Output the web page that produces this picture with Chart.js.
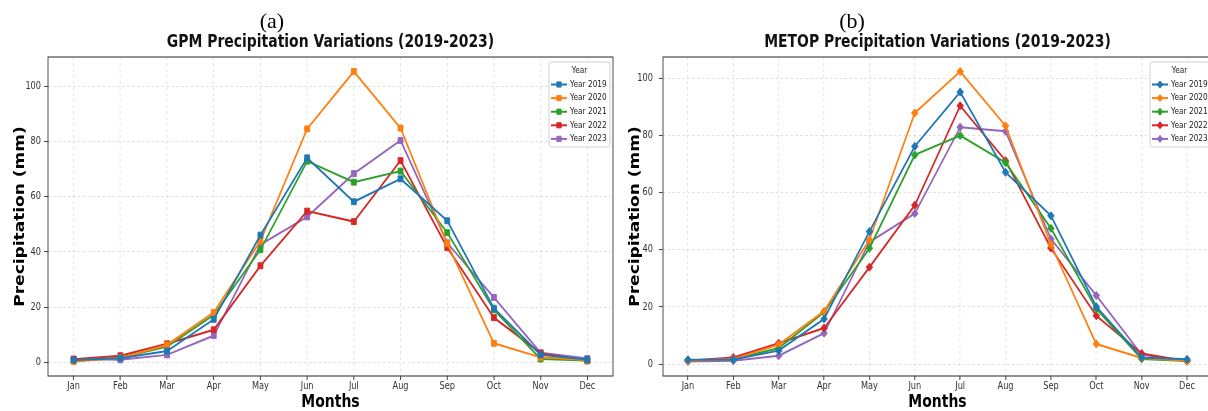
<!DOCTYPE html>
<html><head><meta charset="utf-8">
<script src="https://cdn.jsdelivr.net/npm/chart.js@4/dist/chart.umd.min.js"></script>
<style>
html,body{margin:0;padding:0;background:#fff;}
body{width:1208px;height:411px;position:relative;overflow:hidden;}
.wrap{position:absolute;top:0;height:411px;overflow:hidden;}
.wrap canvas{display:block;}
.lbl{position:absolute;top:10px;width:60px;text-align:center;font-family:"Liberation Serif","DejaVu Serif",serif;font-size:22px;line-height:22px;color:#000;}
</style></head><body>
<div class="wrap" style="left:0;width:630px;"><canvas id="ca"></canvas></div>
<div class="wrap" style="left:620px;width:588px;"><canvas id="cb"></canvas></div>
<div class="lbl" style="left:242px;">(a)</div>
<div class="lbl" style="left:822px;">(b)</div>
<script>
const SX = 0.82; // horizontal compression of the reference picture

const months = ['Jan','Feb','Mar','Apr','May','Jun','Jul','Aug','Sep','Oct','Nov','Dec'];
const years = ['Year 2019','Year 2020','Year 2021','Year 2022','Year 2023'];
const colors = ['#1f77b4','#ff7f0e','#2ca02c','#d62728','#9467bd'];
const yTicks = [0,20,40,60,80,100];

// GPM (mm)
const gpm2019 = [0.8,1.5,4.1,15.6,46.1,74.1,58.2,66.5,51.3,19.6,2.7,1.0];
const gpm2020 = [0.3,1.6,6.3,18.1,44.0,84.6,105.4,84.9,43.0,6.9,1.8,0.8];
const gpm2021 = [0.6,1.7,5.7,17.2,40.8,72.9,65.3,69.3,47.0,19.0,1.2,0.7];
const gpm2022 = [1.1,2.4,6.7,11.8,35.0,54.8,51.0,73.1,41.6,16.2,3.3,0.5];
const gpm2023 = [1.2,0.9,2.7,9.7,42.7,52.7,68.4,80.4,43.3,23.5,3.5,1.4];

// METOP (mm)
const metop2019 = [1.5,1.6,4.7,15.8,46.4,76.2,95.2,67.1,51.9,20.1,2.3,1.7];
const metop2020 = [1.2,1.8,6.8,18.5,43.5,87.9,102.4,83.4,41.8,7.0,2.1,1.2];
const metop2021 = [1.3,1.6,5.6,18.1,40.5,73.2,80.0,70.5,47.5,19.3,1.8,1.1];
const metop2022 = [1.2,2.3,7.3,12.6,33.9,55.6,90.4,71.2,40.6,16.9,3.7,1.0];
const metop2023 = [0.9,1.2,2.9,10.8,42.7,52.7,82.9,81.5,43.8,24.0,3.3,1.1];

const FONT = '"DejaVu Sans", Verdana, sans-serif';

function drawLegend(chart, L) {
  const ctx = chart.ctx;
  const bx = L.x1 / SX, bw = (L.x2 - L.x1) / SX, by = L.y1, bh = L.y2 - L.y1;
  ctx.save();
  ctx.beginPath();
  if (ctx.roundRect) ctx.roundRect(bx, by, bw, bh, 3); else ctx.rect(bx, by, bw, bh);
  ctx.fillStyle = 'rgba(255,255,255,0.85)';
  ctx.fill();
  ctx.strokeStyle = '#cccccc';
  ctx.lineWidth = 1;
  ctx.stroke();
  ctx.font = '9px ' + FONT;
  ctx.fillStyle = '#222';
  ctx.textAlign = 'center';
  ctx.textBaseline = 'middle';
  ctx.fillText('Year', bx + bw / 2, L.titleY);
  chart.data.datasets.forEach((ds, i) => {
    const y = L.row0 + i * L.dy;
    ctx.strokeStyle = ds.borderColor;
    ctx.lineWidth = 2;
    ctx.beginPath();
    ctx.moveTo(L.lx1 / SX, y);
    ctx.lineTo(L.lx2 / SX, y);
    ctx.stroke();
    ctx.fillStyle = ds.backgroundColor;
    ctx.strokeStyle = ds.borderColor;
    ctx.lineWidth = 1;
    Chart.helpers.drawPoint(ctx, {pointStyle: ds.pointStyle, radius: ds.pointRadius - 0.5, rotation: 0, borderWidth: 1}, L.mx / SX, y);
    ctx.fillStyle = '#222';
    ctx.textAlign = 'left';
    ctx.fillText(ds.label, L.tx / SX, y);
  });
  ctx.restore();
}

function build(id, cfg) {
  const canvas = document.getElementById(id);
  canvas.width = cfg.logW; canvas.height = 411;
  canvas.style.width = cfg.logW + 'px'; canvas.style.height = '411px';
  const all = [].concat(...cfg.series);
  const lo = Math.min(...all), hi = Math.max(...all), m = (hi - lo) * 0.05;
  const datasets = cfg.series.map((vals, i) => ({
    label: years[i],
    data: vals.map((v, j) => ({x: j, y: v})),
    borderColor: colors[i],
    backgroundColor: colors[i],
    borderWidth: 2,
    pointStyle: cfg.pointStyle,
    pointRadius: cfg.pointRadius,
    pointHoverRadius: cfg.pointRadius,
    pointBorderWidth: 1,
    tension: 0
  }));
  const plug = {
    id: 'squish_' + id,
    beforeDraw(chart) { chart.ctx.save(); chart.ctx.scale(SX, 1); },
    afterDatasetsDraw(chart) {
      const ctx = chart.ctx, a = chart.chartArea;
      ctx.save();
      ctx.strokeStyle = '#3a3a3a';
      ctx.lineWidth = 1.1;
      ctx.strokeRect(a.left, a.top, a.right - a.left, a.bottom - a.top);
      ctx.font = 'bold 17px ' + FONT;
      ctx.fillStyle = '#111';
      ctx.textAlign = 'center';
      ctx.textBaseline = 'middle';
      ctx.fillText(cfg.title, (a.left + a.right) / 2, 43);
      ctx.restore();
      drawLegend(chart, cfg.legend);
    },
    afterDraw(chart) { chart.ctx.restore(); }
  };
  return new Chart(canvas, {
    type: 'line',
    data: {datasets},
    options: {
      responsive: false,
      animation: false,
      devicePixelRatio: 1,
      layout: {padding: {left: 0, right: cfg.rightPad, top: 57, bottom: 0}},
      plugins: {legend: {display: false}, title: {display: false}, tooltip: {enabled: false}},
      scales: {
        x: {
          type: 'linear', min: -0.55, max: 11.55,
          afterBuildTicks: s => { s.ticks = months.map((mm, i) => ({value: i})); },
          afterFit: s => { s.height = 35; },
          ticks: {callback: v => months[v], autoSkip: false, maxRotation: 0, padding: 0,
                  font: {family: FONT, size: 10}, color: '#333'},
          grid: {color: 'rgba(0,0,0,0.13)', lineWidth: 1, drawTicks: true, tickLength: 4,
                 tickColor: '#333', tickWidth: 1},
          border: {display: false, dash: [3, 3]},
          title: {display: true, text: 'Months', color: '#000',
                  font: {family: FONT, size: 17, weight: 'bold', lineHeight: 1},
                  padding: {top: 0, bottom: 0}}
        },
        y: {
          type: 'linear', min: lo - m, max: hi + m,
          afterBuildTicks: s => { s.ticks = yTicks.map(v => ({value: v})); },
          afterFit: s => { s.width = cfg.yW; },
          ticks: {padding: cfg.yPad, font: {family: FONT, size: 10}, color: '#333'},
          grid: {color: 'rgba(0,0,0,0.13)', lineWidth: 1, drawTicks: true, tickLength: 4.9,
                 tickColor: '#333', tickWidth: 1},
          border: {display: false, dash: [3, 3]},
          title: {display: true, text: 'Precipitation (mm)', color: '#000',
                  font: {family: FONT, size: 17, weight: 'bold', lineHeight: 1.2},
                  padding: {top: cfg.yTitlePad, bottom: 0}}
        }
      }
    },
    plugins: [plug]
  });
}

build('ca', {
  logW: 768, yW: 58.54, rightPad: 20.44, yPad: 3.6, yTitlePad: 14.2,
  title: 'GPM Precipitation Variations (2019-2023)',
  series: [gpm2019, gpm2020, gpm2021, gpm2022, gpm2023],
  pointStyle: 'rect', pointRadius: 4.2,
  legend: {x1: 549, x2: 610, y1: 62, y2: 147, titleY: 70.5, row0: 84.5, dy: 13.6,
           lx1: 551, lx2: 567, mx: 559, tx: 570}
});

build('cb', {
  logW: 735, yW: 52.44, rightPad: 13.05, yPad: 7.3, yTitlePad: 8.1,
  title: 'METOP Precipitation Variations (2019-2023)',
  series: [metop2019, metop2020, metop2021, metop2022, metop2023],
  pointStyle: 'rectRot', pointRadius: 4,
  legend: {x1: 530, x2: 589, y1: 62, y2: 147, titleY: 70.5, row0: 84.5, dy: 13.6,
           lx1: 532, lx2: 548, mx: 540, tx: 551}
});
</script>
</body></html>
